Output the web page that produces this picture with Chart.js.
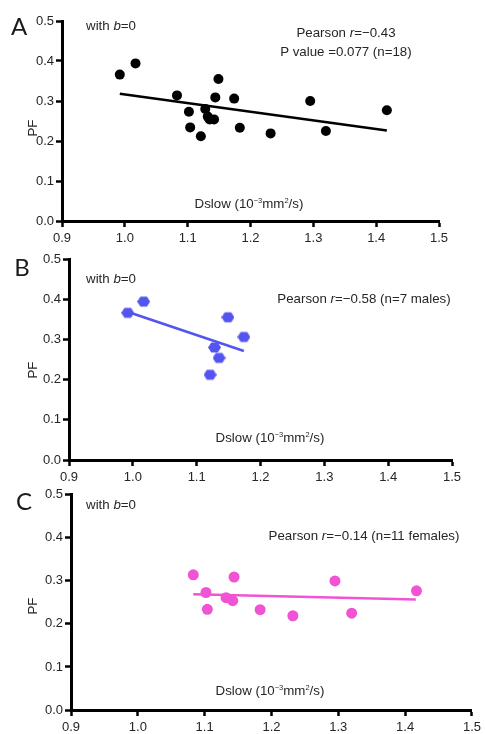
<!DOCTYPE html>
<html>
<head>
<meta charset="utf-8">
<script src="https://cdn.jsdelivr.net/npm/chart.js@4.4.1/dist/chart.umd.min.js"></script>
<style>
body { margin: 0; background: #fff; }
#wrap { position: relative; width: 485px; height: 734px; overflow: hidden; font-family: "Liberation Sans", Arial, sans-serif; color: #262626; }
#wrap canvas { position: absolute; left: 0; }
.lbl { position: absolute; transform: translate(-50%, -50%); white-space: nowrap; font-size: 13.3px; line-height: 1; }
.panel { font-family: Lato, sans-serif; font-size: 24px; color: #1a1a1a; }
.pf { transform: translate(-50%, -50%) rotate(-90deg); }
sup { font-size: 7.5px; vertical-align: 5px; line-height: 0; }
</style>
</head>
<body>
<div id="wrap">
  <canvas id="chartA"></canvas>
  <canvas id="chartB"></canvas>
  <canvas id="chartC"></canvas>

  <div class="lbl panel" style="left:19px;top:26px">A</div>
  <div class="lbl" style="left:111px;top:26px">with <i>b</i>=0</div>
  <div class="lbl" style="left:346px;top:33px">Pearson <i>r</i>=−0.43</div>
  <div class="lbl" style="left:346px;top:52px">P value =0.077 (n=18)</div>
  <div class="lbl" style="left:249px;top:204px">Dslow (10<sup>−3</sup>mm<sup>2</sup>/s)</div>
  <div class="lbl pf" style="left:33px;top:128px">PF</div>

  <div class="lbl panel" style="left:22px;top:267px">B</div>
  <div class="lbl" style="left:111px;top:279px">with <i>b</i>=0</div>
  <div class="lbl" style="left:364px;top:299px">Pearson <i>r</i>=−0.58 (n=7 males)</div>
  <div class="lbl" style="left:270px;top:438px">Dslow (10<sup>−3</sup>mm<sup>2</sup>/s)</div>
  <div class="lbl pf" style="left:33px;top:370px">PF</div>

  <div class="lbl panel" style="left:24px;top:501px">C</div>
  <div class="lbl" style="left:111px;top:505px">with <i>b</i>=0</div>
  <div class="lbl" style="left:364px;top:536px">Pearson <i>r</i>=−0.14 (n=11 females)</div>
  <div class="lbl" style="left:270px;top:691px">Dslow (10<sup>−3</sup>mm<sup>2</sup>/s)</div>
  <div class="lbl pf" style="left:33px;top:606px">PF</div>
</div>
<script>
// data
const xTicks = [0.9, 1.0, 1.1, 1.2, 1.3, 1.4, 1.5];
const yTicks = [0.0, 0.1, 0.2, 0.3, 0.4, 0.5];

const maleDslow = [0.992, 1.017, 1.121, 1.128, 1.135, 1.149, 1.174];
const malePF = [0.366, 0.394, 0.212, 0.280, 0.254, 0.355, 0.306];

const femaleDslow = [1.083, 1.102, 1.104, 1.132, 1.142, 1.144, 1.183, 1.232, 1.295, 1.320, 1.417];
const femalePF = [0.314, 0.273, 0.234, 0.261, 0.254, 0.309, 0.233, 0.219, 0.300, 0.225, 0.277];

// regression line end points
const allFitX = [0.992, 1.417];
const allFitY = [0.318, 0.226];
const maleFitX = [0.995, 1.174];
const maleFitY = [0.367, 0.271];
const femaleFitX = [1.083, 1.416];
const femaleFitY = [0.269, 0.257];

const BLUE = 'rgb(84, 84, 240)';
const PINK = 'rgb(240, 84, 212)';

function toPoints(xs, ys) {
    return xs.map((x, i) => ({ x: x, y: ys[i] }));
}

function hexagon(size, color) {
    const c = document.createElement('canvas');
    c.width = size;
    c.height = size;
    const ctx = c.getContext('2d');
    const r = size / 2;
    ctx.fillStyle = color;
    ctx.beginPath();
    for (let k = 0; k < 6; k++) {
        const a = Math.PI / 3 * k;
        const px = r + r * Math.cos(a);
        const py = r + r * 0.9 * Math.sin(a);
        if (k === 0) ctx.moveTo(px, py); else ctx.lineTo(px, py);
    }
    ctx.closePath();
    ctx.fill();
    return c;
}

function makePanel(id, top, height, area, datasets) {
    const canvas = document.getElementById(id);
    canvas.width = 485;
    canvas.height = height;
    canvas.style.top = top + 'px';

    const axisStyle = {
        grid: { drawOnChartArea: false, drawTicks: true, tickLength: 6, tickWidth: 2.5, tickColor: '#000' },
        border: { display: true, color: '#000', width: 3 }
    };

    return new Chart(canvas.getContext('2d'), {
        type: 'scatter',
        data: { datasets: datasets },
        options: {
            responsive: false,
            animation: false,
            devicePixelRatio: 1,
            layout: { padding: { top: area.top - top, right: 485 - area.right, left: 0, bottom: 0 } },
            plugins: { legend: { display: false }, tooltip: { enabled: false } },
            scales: {
                x: {
                    type: 'linear',
                    min: 0.9,
                    max: 1.5,
                    afterBuildTicks: s => { s.ticks = xTicks.map(v => ({ value: v })); },
                    afterFit: s => { s.height = top + height - area.bottom; },
                    ticks: {
                        autoSkip: false,
                        maxRotation: 0,
                        padding: 4,
                        color: '#262626',
                        font: { family: 'Liberation Sans', size: 13 },
                        callback: v => v.toFixed(1)
                    },
                    ...axisStyle
                },
                y: {
                    type: 'linear',
                    min: 0,
                    max: 0.5,
                    afterBuildTicks: s => { s.ticks = yTicks.map(v => ({ value: v })); },
                    afterFit: s => { s.width = area.left; },
                    ticks: {
                        padding: 2,
                        color: '#262626',
                        font: { family: 'Liberation Sans', size: 13 },
                        callback: v => v.toFixed(1)
                    },
                    ...axisStyle
                }
            }
        }
    });
}

function fitLine(xs, ys, color) {
    return {
        data: toPoints(xs, ys),
        showLine: true,
        borderColor: color,
        borderWidth: 2.5,
        pointRadius: 0,
        order: 2
    };
}

// A: all subjects
makePanel('chartA', 0, 250, { left: 62, right: 439, top: 21, bottom: 221 }, [
    {
        data: toPoints(maleDslow.concat(femaleDslow), malePF.concat(femalePF)),
        backgroundColor: '#000',
        borderWidth: 0,
        pointRadius: 5,
        order: 1
    },
    fitLine(allFitX, allFitY, '#000')
]);

// B: males
makePanel('chartB', 245, 245, { left: 69, right: 452, top: 259, bottom: 460 }, [
    {
        data: toPoints(maleDslow, malePF),
        pointStyle: hexagon(13, BLUE),
        backgroundColor: BLUE,
        borderWidth: 0,
        pointRadius: 6,
        order: 1
    },
    fitLine(maleFitX, maleFitY, BLUE)
]);

// C: females
makePanel('chartC', 485, 249, { left: 71, right: 477, top: 494, bottom: 710 }, [
    {
        data: toPoints(femaleDslow, femalePF),
        backgroundColor: PINK,
        borderWidth: 0,
        pointRadius: 5.5,
        order: 1
    },
    fitLine(femaleFitX, femaleFitY, PINK)
]);
</script>
</body>
</html>
